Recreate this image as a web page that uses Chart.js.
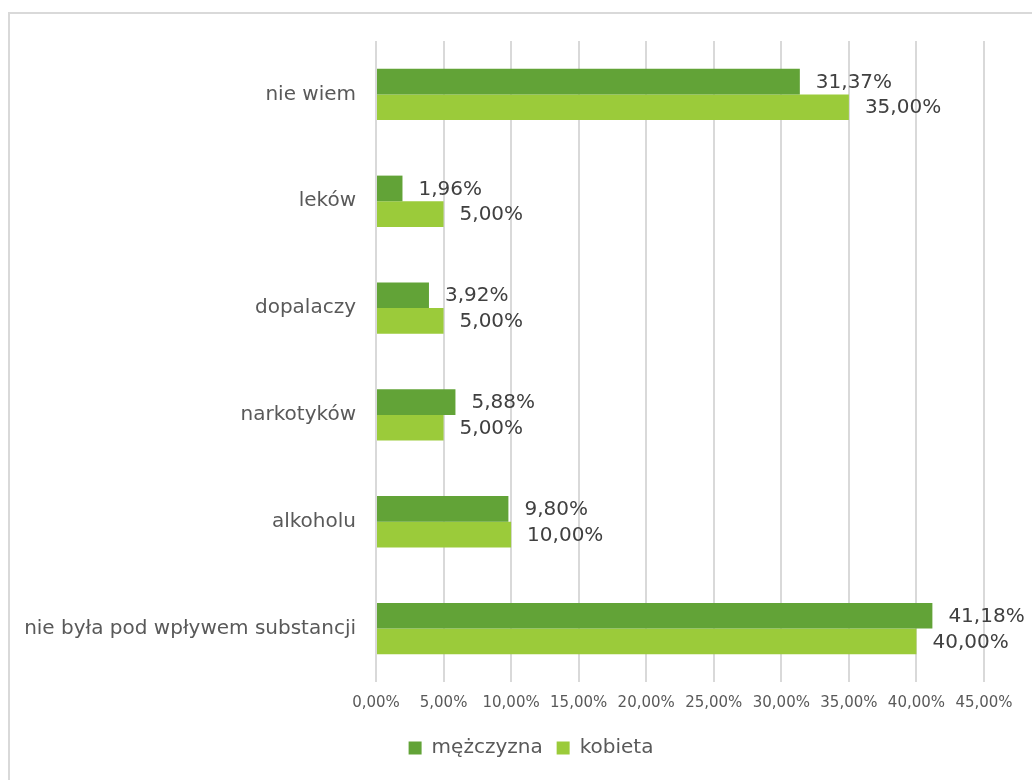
<!DOCTYPE html>
<html>
<head>
<meta charset="utf-8">
<script src="https://cdn.jsdelivr.net/npm/chart.js@4.4.1/dist/chart.umd.min.js"></script>
<style>
  body { margin: 0; background: #fff; }
  #wrap { position: relative; width: 1032px; height: 780px; overflow: hidden; }
  #frame { position: absolute; left: 8px; top: 12px; width: 1100px; height: 900px; border: 2px solid #d9d9d9; }
  canvas { position: absolute; left: 0; top: 0; }
</style>
</head>
<body>
<div id="wrap">
  <div id="frame"></div>
  <canvas id="chart" width="1032" height="780"></canvas>
</div>
<script>
const categories = ["nie wiem", "leków", "dopalaczy", "narkotyków", "alkoholu", "nie była pod wpływem substancji"];
const menValues = [31.37, 1.96, 3.92, 5.88, 9.80, 41.18];
const womenValues = [35.00, 5.00, 5.00, 5.00, 10.00, 40.00];
const seriesNames = ["mężczyzna", "kobieta"];

const fmt = (v) => v.toFixed(2).replace(".", ",") + "%";

// value labels at the end of each bar
const barLabels = {
  id: "barLabels",
  afterDatasetsDraw(chart) {
    const ctx = chart.ctx;
    ctx.save();
    ctx.font = "20px 'DejaVu Sans'";
    ctx.fillStyle = "#404040";
    ctx.textAlign = "left";
    ctx.textBaseline = "middle";
    chart.data.datasets.forEach((ds, i) => {
      chart.getDatasetMeta(i).data.forEach((bar, j) => {
        ctx.fillText(fmt(ds.data[j]), bar.x + 16, bar.y + 1);
      });
    });
    ctx.restore();
  }
};

// push the legend a bit to the right, like in the original
const legendShift = {
  id: "legendShift",
  afterLayout(chart) {
    chart.legend.left += 78;
  }
};

new Chart(document.getElementById("chart").getContext("2d"), {
  type: "bar",
  data: {
    labels: categories,
    datasets: [
      { label: seriesNames[0], data: menValues, backgroundColor: "#62a337" },
      { label: seriesNames[1], data: womenValues, backgroundColor: "#9bcb3a" }
    ]
  },
  options: {
    indexAxis: "y",
    responsive: false,
    animation: false,
    categoryPercentage: 0.48,
    barPercentage: 1,
    layout: { padding: { top: 41, right: 48, left: 0, bottom: 12 } },
    scales: {
      x: {
        min: 0,
        max: 45,
        ticks: {
          stepSize: 5,
          color: "#595959",
          font: { family: "'DejaVu Sans'", size: 15 },
          padding: 12,
          callback: (v) => fmt(v)
        },
        grid: { color: "#d9d9d9", lineWidth: 2, drawTicks: false },
        border: { display: false },
        afterFit: (s) => { s.height = 42; }
      },
      y: {
        ticks: {
          color: "#595959",
          font: { family: "'DejaVu Sans'", size: 20 },
          padding: 20
        },
        grid: { display: false, drawTicks: false },
        border: { display: false },
        afterFit: (s) => { s.width = 376; }
      }
    },
    plugins: {
      legend: {
        position: "bottom",
        labels: {
          color: "#595959",
          font: { family: "'DejaVu Sans'", size: 20 },
          boxWidth: 13,
          boxHeight: 13,
          padding: 14
        }
      },
      tooltip: { enabled: false }
    }
  },
  plugins: [barLabels, legendShift]
});
</script>
</body>
</html>
